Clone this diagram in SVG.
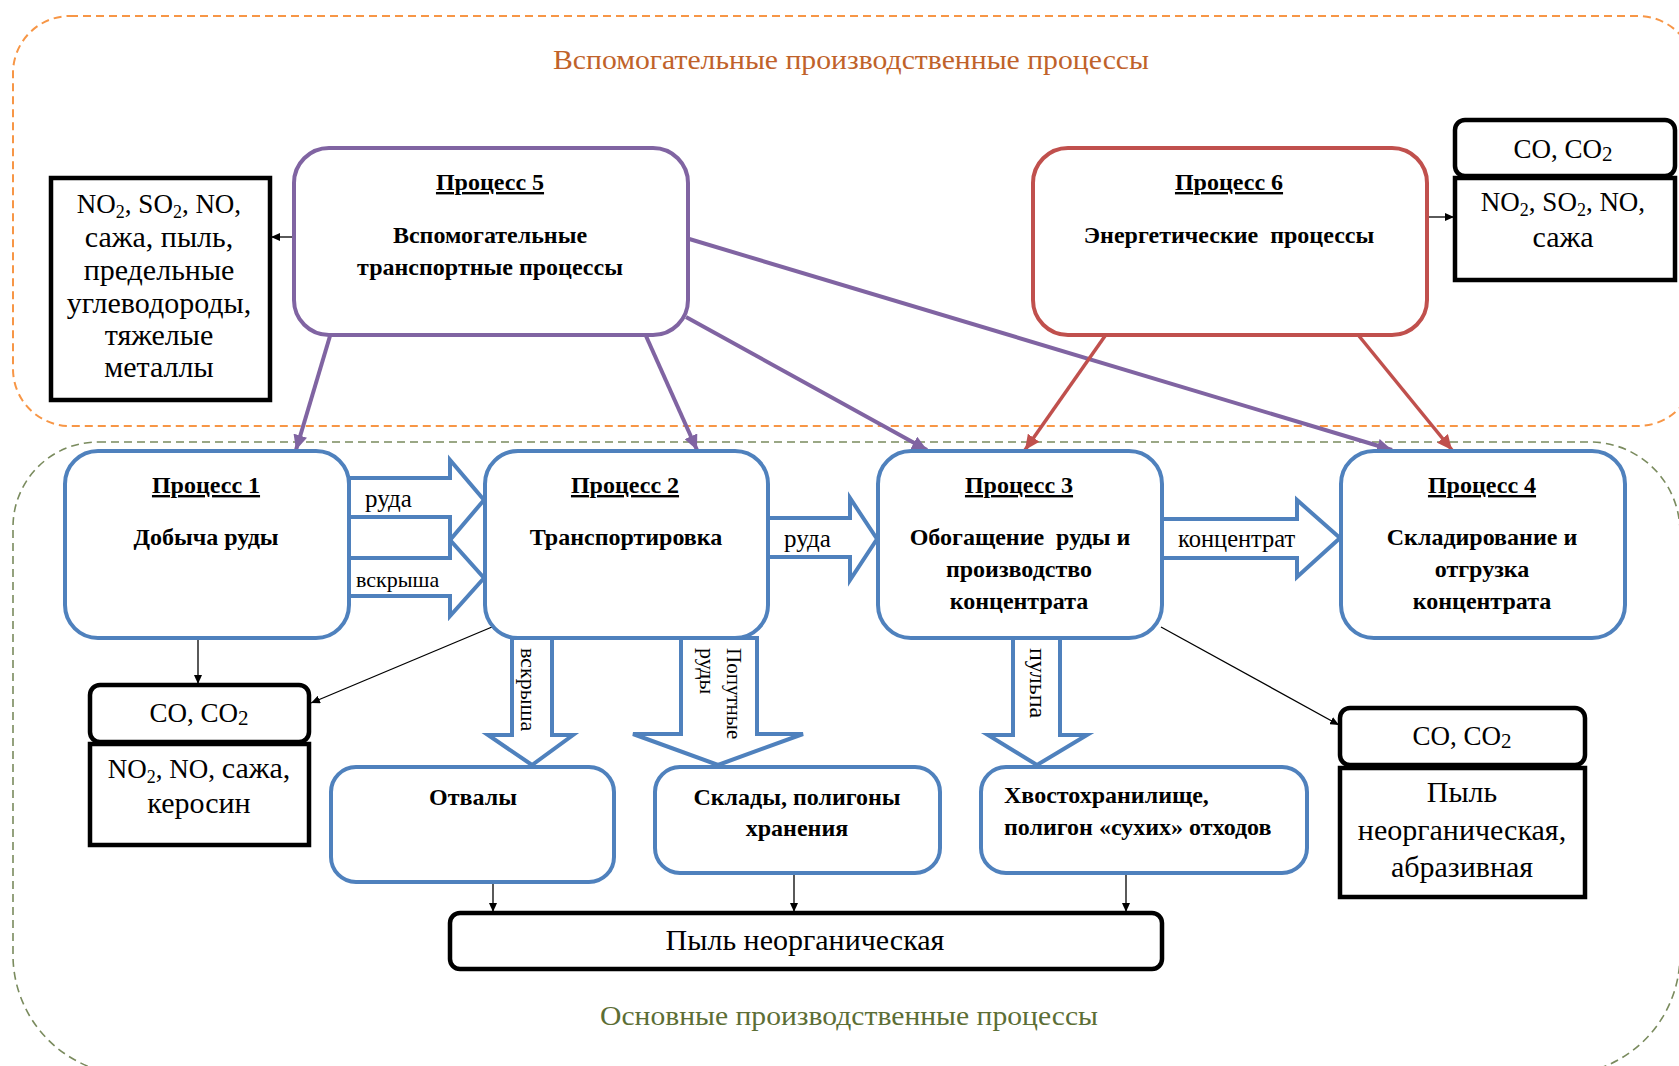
<svg xmlns="http://www.w3.org/2000/svg" width="1679" height="1066" viewBox="0 0 1679 1066">
  <style>
    .area-aux { fill: none; stroke: #F79646; stroke-width: 2; stroke-dasharray: 8 5; }
    .area-main { fill: none; stroke: #7A8B5E; stroke-width: 1.6; stroke-dasharray: 8 5; }
    .proc { fill: #fff; stroke: #4F81BD; stroke-width: 4; }
    .flow { fill: #fff; stroke: #4F81BD; stroke-width: 4; stroke-linejoin: miter; }
    .emis { fill: #fff; stroke: #000; stroke-width: 4.5; }
    .tr { font-family: "Liberation Serif", "Times New Roman", serif; font-size: 30px; fill: #000; text-anchor: middle; }
    .lat { font-size: 27px; }
    .tb { font-family: "Liberation Serif", "Times New Roman", serif; font-size: 24px; font-weight: bold; fill: #000; text-anchor: middle; }
    .left { text-anchor: start; }
    .ul { text-decoration: underline; }
    .lbl { font-family: "Liberation Serif", "Times New Roman", serif; font-size: 22px; fill: #000; }
    .thin { stroke: #000; stroke-width: 1.3; fill: none; marker-end: url(#ah-black); }
    .lp { stroke: #8064A2; stroke-width: 4; fill: none; marker-end: url(#ah-purple); }
    .lr { stroke: #C0504D; stroke-width: 3.5; fill: none; marker-end: url(#ah-red); }
  </style>
  <defs>
    <marker id="ah-black" markerUnits="userSpaceOnUse" markerWidth="10" markerHeight="8" refX="9" refY="4" orient="auto">
      <path d="M0,0 L9,4 L0,8 Z" fill="#000"/>
    </marker>
    <marker id="ah-purple" markerUnits="userSpaceOnUse" markerWidth="16" markerHeight="14" refX="15" refY="7" orient="auto">
      <path d="M0,0 L15,7 L0,14 Z" fill="#8064A2"/>
    </marker>
    <marker id="ah-red" markerUnits="userSpaceOnUse" markerWidth="16" markerHeight="14" refX="15" refY="7" orient="auto">
      <path d="M0,0 L15,7 L0,14 Z" fill="#C0504D"/>
    </marker>
  </defs>

  <rect width="1679" height="1066" fill="#fff"/>

  <!-- process areas -->
  <g id="area-auxiliary">
    <rect class="area-aux" x="13" y="16" width="1682" height="410" rx="57" ry="57"/>
    <text x="851" y="69" font-family="Liberation Serif, Times New Roman, serif" font-size="27" fill="#C0622A" text-anchor="middle" textLength="596" lengthAdjust="spacingAndGlyphs">Вспомогательные производственные процессы</text>
  </g>
  <g id="area-main">
    <path class="area-main" d="M98,442 H1590 A90,90 0 0 1 1680,532 V955 A120,120 0 0 1 1560,1075 H133 A120,120 0 0 1 13,955 V527 A85,85 0 0 1 98,442 Z"/>
    <text x="849" y="1025" font-family="Liberation Serif, Times New Roman, serif" font-size="27" fill="#5C6E35" text-anchor="middle" textLength="498" lengthAdjust="spacingAndGlyphs">Основные производственные процессы</text>
  </g>

  <!-- connectors -->
  <g id="connectors">
    <!-- material flows (block arrows) -->
    <polygon class="flow" points="349,478 450,478 450,460 484,500 450,540 450,517 349,517"/>
    <polygon class="flow" points="349,558 450,558 450,540 484,578 450,616 450,596 349,596"/>
    <polygon class="flow" points="768,518 850,518 850,498 877,539 850,580 850,557 768,557"/>
    <polygon class="flow" points="1162,519 1297,519 1297,500 1340,538 1297,577 1297,558 1162,558"/>
    <polygon class="flow" points="512,638 512,735 488,735 532,765 573,735 552,735 552,638"/>
    <polygon class="flow" points="681,638 681,734 633,734 718,765 803,734 757,734 757,638"/>
    <polygon class="flow" points="1013,638 1013,735 988,735 1037,765 1087,735 1060,735 1060,638"/>
    <text class="lbl" x="365" y="507" font-size="25" style="font-size:25px">руда</text>
    <text class="lbl" x="356" y="587">вскрыша</text>
    <text class="lbl" x="784" y="547" style="font-size:25px">руда</text>
    <text class="lbl" x="1178" y="547" style="font-size:24.5px">концентрат</text>
    <text class="lbl" transform="translate(521,648) rotate(90)">вскрыша</text>
    <text class="lbl" transform="translate(727,648) rotate(90)" style="font-size:21px">Попутные</text>
    <text class="lbl" transform="translate(700,648) rotate(90)">руды</text>
    <text class="lbl" transform="translate(1030,648) rotate(90)" style="font-size:24px">пульпа</text>

    <!-- auxiliary process links -->
    <line class="lp" x1="330" y1="336" x2="296" y2="450"/>
    <line class="lp" x1="646" y1="336" x2="697" y2="450"/>
    <line class="lp" x1="686" y1="317" x2="927" y2="450"/>
    <line class="lp" x1="686" y1="238" x2="1392" y2="450"/>
    <line class="lr" x1="1105" y1="336" x2="1025" y2="450"/>
    <line class="lr" x1="1359" y1="336" x2="1452" y2="450"/>

    <!-- emissions -->
    <line class="thin" x1="293" y1="237" x2="271" y2="237"/>
    <line class="thin" x1="1427" y1="217" x2="1454" y2="217"/>
    <line class="thin" x1="198" y1="638" x2="198" y2="684"/>
    <line class="thin" x1="492" y1="627" x2="311" y2="703"/>
    <line class="thin" x1="1161" y1="627" x2="1339" y2="725"/>
    <line class="thin" x1="493" y1="882" x2="493" y2="912"/>
    <line class="thin" x1="794" y1="873" x2="794" y2="912"/>
    <line class="thin" x1="1126" y1="873" x2="1126" y2="912"/>
  </g>

  <!-- auxiliary processes -->
  <g id="process-5">
    <rect x="294" y="148" width="394" height="187" rx="35" fill="#fff" stroke="#8064A2" stroke-width="4"/>
    <text class="tb ul" x="490" y="190">Процесс 5</text>
    <text class="tb" x="490" y="243">Вспомогательные</text>
    <text class="tb" x="490" y="275">транспортные процессы</text>
  </g>
  <g id="process-6">
    <rect x="1033" y="148" width="394" height="187" rx="35" fill="#fff" stroke="#C0504D" stroke-width="4"/>
    <text class="tb ul" x="1229" y="190">Процесс 6</text>
    <text class="tb" x="1229" y="243" xml:space="preserve">Энергетические  процессы</text>
  </g>

  <g id="emission-p5">
    <rect class="emis" x="51" y="178" width="219" height="222"/>
    <text class="tr lat" x="159" y="213">NO<tspan font-size="18" dy="5">2</tspan><tspan dy="-5">, SO</tspan><tspan font-size="18" dy="5">2</tspan><tspan dy="-5">, NO,</tspan></text>
    <text class="tr" x="159" y="247">сажа, пыль,</text>
    <text class="tr" x="159" y="280">предельные</text>
    <text class="tr" x="159" y="313">углеводороды,</text>
    <text class="tr" x="159" y="345">тяжелые</text>
    <text class="tr" x="159" y="377">металлы</text>
  </g>
  <g id="emission-p6">
    <rect class="emis" x="1455" y="120" width="220" height="56" rx="10"/>
    <rect class="emis" x="1455" y="178" width="220" height="102"/>
    <text class="tr lat" x="1563" y="158">CO, CO<tspan font-size="21" dy="3">2</tspan></text>
    <text class="tr lat" x="1563" y="211">NO<tspan font-size="18" dy="5">2</tspan><tspan dy="-5">, SO</tspan><tspan font-size="18" dy="5">2</tspan><tspan dy="-5">, NO,</tspan></text>
    <text class="tr" x="1563" y="247">сажа</text>
  </g>

  <!-- main processes -->
  <g id="process-1">
    <rect class="proc" x="65" y="451" width="284" height="187" rx="33"/>
    <text class="tb ul" x="206" y="493">Процесс 1</text>
    <text class="tb" x="206" y="545">Добыча руды</text>
  </g>
  <g id="process-2">
    <rect class="proc" x="485" y="451" width="283" height="187" rx="33"/>
    <text class="tb ul" x="625" y="493">Процесс 2</text>
    <text class="tb" x="626" y="545">Транспортировка</text>
  </g>
  <g id="process-3">
    <rect class="proc" x="878" y="451" width="284" height="187" rx="33"/>
    <text class="tb ul" x="1019" y="493">Процесс 3</text>
    <text class="tb" x="1020" y="545" xml:space="preserve">Обогащение  руды и</text>
    <text class="tb" x="1019" y="577">производство</text>
    <text class="tb" x="1019" y="609">концентрата</text>
  </g>
  <g id="process-4">
    <rect class="proc" x="1341" y="451" width="284" height="187" rx="33"/>
    <text class="tb ul" x="1482" y="493">Процесс 4</text>
    <text class="tb" x="1482" y="545">Складирование и</text>
    <text class="tb" x="1482" y="577">отгрузка</text>
    <text class="tb" x="1482" y="609">концентрата</text>
  </g>

  <g id="emission-p1-p2">
    <rect class="emis" x="90" y="685" width="219" height="57" rx="10"/>
    <rect class="emis" x="90" y="744" width="219" height="101"/>
    <text class="tr lat" x="199" y="722">CO, CO<tspan font-size="21" dy="3">2</tspan></text>
    <text class="tr lat" x="199" y="778">NO<tspan font-size="18" dy="5">2</tspan><tspan dy="-5">, NO, </tspan><tspan font-size="30">сажа,</tspan></text>
    <text class="tr" x="199" y="813">керосин</text>
  </g>
  <g id="emission-p3">
    <rect class="emis" x="1340" y="708" width="245" height="57" rx="10"/>
    <rect class="emis" x="1340" y="768" width="245" height="129"/>
    <text class="tr lat" x="1462" y="745">CO, CO<tspan font-size="21" dy="3">2</tspan></text>
    <text class="tr" x="1462" y="802">Пыль</text>
    <text class="tr" x="1462" y="840">неорганическая,</text>
    <text class="tr" x="1462" y="877">абразивная</text>
  </g>

  <!-- storage -->
  <g id="dumps">
    <rect class="proc" x="331" y="767" width="283" height="115" rx="25"/>
    <text class="tb" x="473" y="805">Отвалы</text>
  </g>
  <g id="stockpiles">
    <rect class="proc" x="655" y="767" width="285" height="106" rx="25"/>
    <text class="tb" x="797" y="805">Склады, полигоны</text>
    <text class="tb" x="797" y="836">хранения</text>
  </g>
  <g id="tailings">
    <rect class="proc" x="981" y="767" width="326" height="106" rx="25"/>
    <text class="tb left" x="1004" y="803">Хвостохранилище,</text>
    <text class="tb left" x="1004" y="835">полигон «сухих» отходов</text>
  </g>
  <g id="dust">
    <rect class="emis" x="450" y="913" width="712" height="56" rx="10"/>
    <text class="tr" x="805" y="950">Пыль неорганическая</text>
  </g>
</svg>
